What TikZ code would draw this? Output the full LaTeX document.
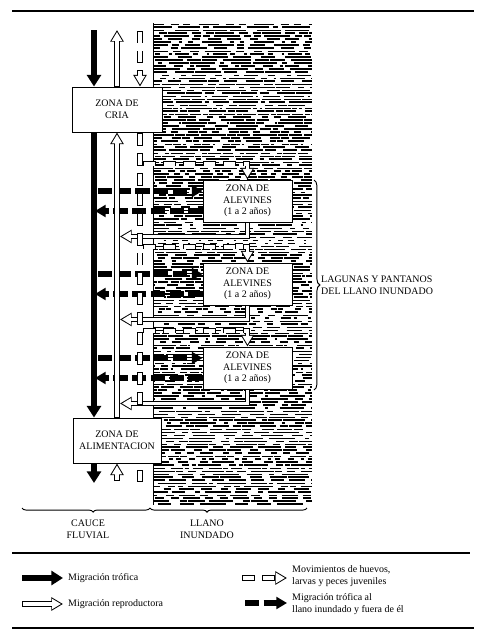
\documentclass[tikz,border=0pt]{standalone}
\usepackage{fontspec}
\setmainfont{Liberation Serif}
\usetikzlibrary{arrows.meta, calc, decorations.pathreplacing}

\begin{document}
\begin{tikzpicture}[
  x=0.03cm, y=-0.03cm,
  every node/.style={font=\fontsize{8.5}{10}\selectfont},
  zonabox/.style={draw, line width=0.8pt, fill=white, align=center,
                  inner sep=0pt, minimum height=1.35cm},
  alevbox/.style={zonabox, minimum width=2.67cm, minimum height=1.26cm},
  trof/.style={line width=5pt, -{Triangle[length=10pt, width=12pt]}},
  troflat/.style={line width=4.6pt, dash pattern=on 12pt off 4pt,
                  -{Triangle[length=9pt, width=10pt]}},
  repro/.style={line width=4.6pt, -{Triangle[length=10pt, width=11pt]},
                postaction={draw=white, line width=3pt, shorten >=1.7pt,
                            shorten <=0.8pt, -{Triangle[length=7.5pt, width=8.3pt]}}},
  eggs/.style={line width=5pt, line cap=rect, dash pattern=on 6pt off 11pt,
               postaction={draw=white, line width=3.4pt, line cap=rect,
                           dash pattern=on 6pt off 11pt}},
  eggarr/.style={line width=5pt, line cap=rect, dash pattern=on 6pt off 11pt,
                 -{Triangle[length=10pt, width=11pt]},
                 postaction={draw=white, line width=3.4pt, line cap=rect,
                             dash pattern=on 6pt off 11pt, shorten >=1.7pt,
                             -{Triangle[length=7.5pt, width=8.3pt]}}},
  rule/.style={line width=1pt},
  llave/.style={decorate, line width=0.8pt},
  lbl/.style={align=center, inner sep=0pt}
]
  \useasboundingbox (0,0) rectangle (490,643);

  %% flooded plain texture
  \pgfmathsetseed{1234}
  \foreach \r in {0,...,160}{
    \pgfmathtruncatemacro{\da}{random(3,22)}
    \pgfmathtruncatemacro{\ga}{random(1,9)}
    \pgfmathtruncatemacro{\db}{random(2,14)}
    \pgfmathtruncatemacro{\gb}{random(1,10)}
    \pgfmathtruncatemacro{\dc}{random(4,24)}
    \pgfmathtruncatemacro{\gc}{random(1,7)}
    \pgfmathtruncatemacro{\ph}{random(0,40)}
    \pgfmathsetmacro{\lw}{0.5+0.1*random(0,8)}
    \draw[line width=\lw pt,
          dash pattern=on \da pt off \ga pt on \db pt off \gb pt on \dc pt off \gc pt,
          dash phase=\ph pt] (153,24+3*\r) -- (312,24+3*\r);
  }
  \draw[line width=0.6pt] (153,23) -- (153,505);

  %% zones
  \node[zonabox, minimum width=2.7cm]  (cria)  at (117,109.5) {ZONA DE\\CRIA};
  \node[zonabox, minimum width=2.64cm] (alim)  at (117,440.5) {ZONA DE\\ALIMENTACION};
  \node[alevbox] (alev1) at (247.5,201) {ZONA DE\\ALEVINES\\(1 a 2 años)};
  \node[alevbox] (alev2) at (247.5,284) {ZONA DE\\ALEVINES\\(1 a 2 años)};
  \node[alevbox] (alev3) at (247.5,368) {ZONA DE\\ALEVINES\\(1 a 2 años)};

  \coordinate (trofTop)  at (94,30);
  \coordinate (trofBot)  at (94,483);
  \coordinate (reproTop) at (117,30);
  \coordinate (reproBot) at (117,481);
  \coordinate (eggTop)   at (140,30);
  \coordinate (eggBotA)  at (140,473);
  \coordinate (eggBot)   at (140,479);

  %% trophic migration to and from the plain
  \foreach \b in {alev1,alev2,alev3}{
    \draw[troflat] ($(trofTop |- \b.west)+(4,-10)$) -- ($(\b.west)+(0,-10)$);
    \draw[troflat] ($(\b.west)+(0,10)$) -- ($(trofTop |- \b.west)+(1,10)$);
  }

  %% river channel
  \draw[trof] (trofTop) -- (trofTop |- cria.north);
  \draw[trof] (trofTop |- cria.south) -- (trofTop |- alim.north);
  \draw[trof] (trofTop |- alim.south) -- (trofBot);

  \draw[repro] (cria.north) -- (reproTop);
  \draw[repro] (alim.north) -- (cria.south);
  \draw[repro] (reproBot) -- (alim.south);
  \foreach \b in {alev1,alev2,alev3}
    \draw[repro] (\b.south) |- ($(reproTop |- \b.south)+(3,14)$);

  \draw[eggarr, shorten <=3pt] (eggTop) -- (eggTop |- cria.north);
  \draw[eggs, shorten <=3pt, shorten >=3pt] (eggTop |- cria.south) -- (eggTop |- alim.north);
  \draw[eggs] (eggBotA) -- (eggBot);
  \foreach \b in {alev1,alev2,alev3}
    \draw[eggarr] ($(eggTop |- \b.north)+(6,-16)$) -| (\b.north);

  %% braces
  \draw[llave, decoration={brace, amplitude=5pt}] (314,180) -- (314,390);
  \node[lbl, anchor=west, align=left] (lagunas) at (321,285)
    {LAGUNAS Y PANTANOS\\DEL LLANO INUNDADO};
  \draw[llave, decoration={brace, mirror, amplitude=3.5pt, aspect=0.555}] (22,508) -- (150,508);
  \draw[llave, decoration={brace, mirror, amplitude=3.5pt, aspect=0.363}] (150,508) -- (307,508);
  \node[lbl] (cauce) at (88,529)  {CAUCE\\FLUVIAL};
  \node[lbl] (llano) at (207,529) {LLANO\\INUNDADO};

  %% legend
  \draw[rule] (12,11)  -- (474,11);
  \draw[rule] (12,553) -- (470,553);
  \draw[rule] (12,628) -- (474,628);

  \draw[trof] (22,578) -- (63,578);
  \node[lbl, anchor=west] (legTrof)  at (68,578) {Migración trófica};
  \draw[repro] (22,604) -- (63,604);
  \node[lbl, anchor=west] (legRepro) at (68,604) {Migración reproductora};
  \draw[eggarr] (245,578) -- (287,578);
  \node[lbl, anchor=west, align=left] (legEggs) at (292,576)
    {Movimientos de huevos,\\larvas y peces juveniles};
  \draw[troflat] (245,603) -- (287,603);
  \node[lbl, anchor=west, align=left] (legLat) at (292,604)
    {Migración trófica al\\llano inundado y fuera de él};
\end{tikzpicture}
\end{document}
